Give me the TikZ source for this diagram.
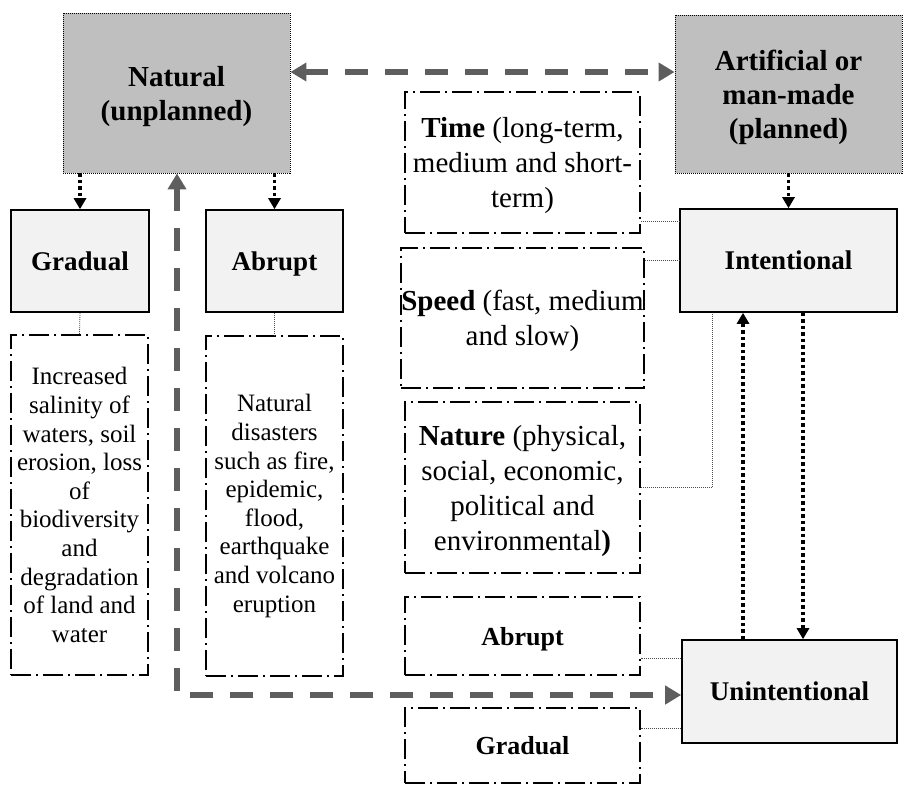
\documentclass[tikz,border=0pt]{standalone}
\usepackage{fontspec}
\setmainfont{Liberation Serif}
\usetikzlibrary{arrows.meta}

\definecolor{topgray}{HTML}{BFBFBF}
\definecolor{boxfill}{HTML}{F2F2F2}
\definecolor{linkgray}{HTML}{5E5E5E}

\tikzset{
  topbox/.style={draw=black, fill=topgray, line width=0.9pt, dash pattern=on 1pt off 1pt,
    inner sep=0pt, align=center, text depth=0pt, font=\fontsize{29}{34}\selectfont\bfseries},
  typebox/.style={draw=black, fill=boxfill, line width=1.6pt, inner sep=0pt,
    text depth=0pt, align=center, font=\fontsize{27}{32}\selectfont\bfseries},
  notebox/.style={draw=black, line width=1.8pt, dash pattern=on 20pt off 5pt on 2pt off 5pt,
    inner sep=0pt, align=center},
  leftnote/.style={notebox, font=\fontsize{25}{28.6}\selectfont},
  rightnote/.style={notebox, text depth=0pt, font=\fontsize{29}{35}\selectfont},
  boldnote/.style={notebox, text depth=0pt, font=\fontsize{26}{31}\selectfont\bfseries},
  graylink/.style={draw=linkgray, line width=5.5pt, dash pattern=on 23pt off 17pt,
    {Triangle[length=16pt,width=18pt]}-{Triangle[length=16pt,width=18pt]}},
  dotarrow/.style={draw=black, line width=3.2pt, dash pattern=on 3.5pt off 3pt,
    -{Triangle[length=11pt,width=12pt]}},
  thinlink/.style={draw=black!70, line width=0.8pt, dash pattern=on 1pt off 1pt},
}

\begin{document}
\begin{tikzpicture}[x=1pt, y=-1pt]
\useasboundingbox (0,0) rectangle (904,785);

% main categories
\node[topbox, minimum width=227pt, minimum height=160pt] (nat) at (176.5,93)
  {Natural\\(unplanned)};
\node[topbox, minimum width=227pt, minimum height=158pt] (art) at (788.5,94)
  {Artificial or\\man-made\\(planned)};

% natural branch
\node[typebox, minimum width=138pt, minimum height=102pt] (grad) at (80,261) {Gradual};
\node[typebox, minimum width=137pt, minimum height=102pt] (abr) at (274.5,261) {Abrupt};
\node[leftnote, minimum width=137pt, minimum height=340pt] (graddesc) at (79.5,505)
  {Increased\\salinity of\\waters, soil\\erosion, loss\\of\\biodiversity\\and\\degradation\\of land and\\water};
\node[leftnote, minimum width=137pt, minimum height=340pt] (abrdesc) at (274.5,506)
  {Natural\\disasters\\such as fire,\\epidemic,\\flood,\\earthquake\\and volcano\\eruption};

% artificial branch
\node[typebox, minimum width=217pt, minimum height=103pt] (int) at (788.5,260.5) {Intentional};
\node[typebox, minimum width=215pt, minimum height=103pt] (unint) at (789.5,691.5) {Unintentional};

% attributes
\node[rightnote, minimum width=235pt, minimum height=141pt] (time) at (522.5,162.5)
  {\textbf{Time} (long-term,\\medium and short-\\term)};
\node[rightnote, minimum width=235pt, minimum height=140pt] (speed) at (522.5,318)
  {\textbf{Speed} (fast, medium\\and slow)};
\node[rightnote, minimum width=235pt, minimum height=171pt] (nature) at (522.5,487.5)
  {\textbf{Nature} (physical,\\social, economic,\\political and\\environmental\textbf{)}};
\node[boldnote, minimum width=235pt, minimum height=78pt] (rabr) at (522.5,636) {Abrupt};
\node[boldnote, minimum width=235pt, minimum height=75pt] (rgrad) at (522.5,745.5) {Gradual};

% dashed gray links
\draw[graylink] ([yshift=21pt]nat.east) -- ([yshift=21pt]nat.east -| art.west);
\coordinate (corner) at (177,695);
\draw[graylink] (corner |- nat.south) -- (corner) -- (corner -| unint.west);

% dotted arrows
\draw[dotarrow] (grad.north |- nat.south) -- (grad.north);
\draw[dotarrow] (abr.north |- nat.south) -- (abr.north);
\draw[dotarrow] (art.south) -- (int.north);
\draw[dotarrow] ([xshift=-46.5pt]unint.north) -- ([xshift=-46.5pt]unint.north |- int.south);
\draw[dotarrow] ([xshift=13.5pt]unint.north |- int.south) -- ([xshift=13.5pt]unint.north);

% thin links
\draw[thinlink] (grad.south) -- (graddesc.north);
\draw[thinlink] (abr.south) -- (abrdesc.north);
\draw[thinlink] ([yshift=13pt]time.south east) -- ([yshift=13pt]time.south east -| int.west);
\draw[thinlink] (speed.east |- int.west) -- (int.west);
\draw[thinlink] (nature.east) -| ([xshift=-76.5pt]int.south);
\draw[thinlink] ([yshift=-19pt]unint.north west) -- ([yshift=-19pt]unint.north west -| rabr.east);
\draw[thinlink] ([yshift=15pt]unint.south west) -- ([yshift=15pt]unint.south west -| rgrad.east);
\end{tikzpicture}
\end{document}
